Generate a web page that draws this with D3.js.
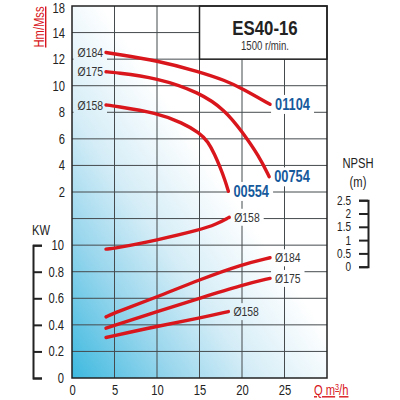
<!DOCTYPE html>
<html lang="en">
<head>
<meta charset="UTF-8">
<title>ES40-16</title>
<script src="https://d3js.org/d3.v7.min.js"></script>
<style>
  body { margin: 0; background: #fff; }
  svg text { font-family: "Liberation Sans", Arial, sans-serif; }
</style>
</head>
<body>
<svg id="chart" width="400" height="400"></svg>
<script>
    // axis ticks (labels copied as printed on the sheet)
    const qTicks = [0, 5, 10, 15, 20, 25];
    const hTicks = [2, 4, 6, 8, 10, 12, 14, 16];
    const hLabels = ["2", "4", "6", "8", "10", "12", "14", "18"];
    const kwTicks = [0, 0.2, 0.4, 0.6, 0.8, 1];
    const kwLabels = ["0", "0.2", "0.4", "0.6", "0.8", "10"];
    const npshTicks = [0, 0.5, 1, 1.5, 2, 2.5];
    const npshLabels = ["0", "0.5", "1", "1.5", "2", "2.5"];

    // head curves (Q m3/h, H m)
    const q184H = [4, 5, 10, 15, 18, 20, 23.3];
    const h184 = [12.5, 12.4, 11.9, 11.05, 10.4, 9.8, 8.6];
    const q175H = [4, 5, 10, 15, 18, 20, 22, 23.2];
    const h175 = [11.05, 11.0, 10.6, 9.5, 8.17, 6.55, 4.7, 3.15];
    const q158H = [4, 5, 10, 13, 15, 16, 16.8, 17.4, 18, 18.4];
    const h158 = [8.55, 8.47, 7.95, 7.2, 6.45, 5.8, 4.8, 3.9, 2.9, 2.05];
    const motors = ["01104", "00754", "00554"];

    // npsh curve
    const qNpsh = [4, 5, 10, 15, 17, 18.5];
    const npsh158 = [0.66, 0.69, 1.0, 1.38, 1.6, 1.86];

    // power curves (KW)
    const q184P = [4, 5, 10, 15, 20, 23.3];
    const kw184 = [0.46, 0.49, 0.61, 0.74, 0.855, 0.905];
    const q175P = [4, 10, 15, 20, 23.3];
    const kw175 = [0.375, 0.5, 0.6, 0.7, 0.75];
    const q158P = [4, 10, 15, 18.4];
    const kw158 = [0.305, 0.39, 0.45, 0.5];

    const svg = d3.select("#chart");
    const step = 372 / 14;   // one grid row
    const squeeze = 0.8;     // the sheet uses a condensed face

    const x = d3.scaleLinear().domain([0, 30]).range([72, 327]);
    const yH = d3.scaleLinear().domain([0, 16]).range([6 + 8 * step, 6]);
    const yKW = d3.scaleLinear().domain([0, 1]).range([378, 378 - 5 * step]);
    const yN = d3.scaleLinear().domain([0, 2.5]).range([266.7, 200.2]);

    const red = "#d8161c";
    const blue = "#165a9c";

    // background gradient
    const defs = svg.append("defs");
    const grad = defs.append("linearGradient").attr("id", "bg")
        .attr("x1", 0).attr("y1", 1).attr("x2", 1).attr("y2", 0);
    grad.append("stop").attr("offset", 0).attr("stop-color", "#3db9df");
    grad.append("stop").attr("offset", 0.2).attr("stop-color", "#98d6ed");
    grad.append("stop").attr("offset", 0.36).attr("stop-color", "#d5edf7");
    grad.append("stop").attr("offset", 0.56).attr("stop-color", "#ffffff");

    svg.append("rect")
        .attr("x", x(0)).attr("y", yH(16))
        .attr("width", x(30) - x(0)).attr("height", yKW(0) - yH(16))
        .attr("fill", "url(#bg)");

    // grid (masked around labels at the end)
    const mask = defs.append("mask").attr("id", "gaps").attr("maskUnits", "userSpaceOnUse")
        .attr("x", 0).attr("y", 0).attr("width", 400).attr("height", 400);
    mask.append("rect").attr("width", 400).attr("height", 400).attr("fill", "#fff");

    const grid = svg.append("g").attr("mask", "url(#gaps)")
        .attr("stroke", "#454a4d").attr("stroke-width", 1);
    const hRows = [0].concat(hTicks.slice(0, -1)).map(d => yH(d))
        .concat(kwTicks.slice(1).map(d => yKW(d)));
    grid.selectAll(".hl").data(hRows).join("line")
        .attr("x1", x(0)).attr("x2", x(30))
        .attr("y1", d => d).attr("y2", d => d);
    grid.selectAll(".vl").data(qTicks.slice(1)).join("line")
        .attr("x1", d => x(d)).attr("x2", d => x(d))
        .attr("y1", yH(16)).attr("y2", yKW(0));

    // title box
    svg.append("rect")
        .attr("x", x(15)).attr("y", yH(16))
        .attr("width", x(30) - x(15)).attr("height", yH(12) - yH(16))
        .attr("fill", "#fff").attr("stroke", "#222").attr("stroke-width", 1.5);
    svg.append("text").attr("x", 265).attr("y", 35)
        .attr("text-anchor", "middle").attr("font-size", 21).attr("font-weight", "bold")
        .attr("fill", "#222").text("ES40-16");
    svg.append("text").attr("x", 265).attr("y", 50)
        .attr("text-anchor", "middle").attr("font-size", 12)
        .attr("fill", "#333").text("1500 r/min.");

    // frame
    svg.append("rect")
        .attr("x", x(0)).attr("y", yH(16))
        .attr("width", x(30) - x(0)).attr("height", yKW(0) - yH(16))
        .attr("fill", "none").attr("stroke", "#222").attr("stroke-width", 1.5);

    // curves
    const curves = [
        { q: q184H, v: h184, y: yH, left: "Ø184", right: motors[0], rc: blue },
        { q: q175H, v: h175, y: yH, left: "Ø175", right: motors[1], rc: blue },
        { q: q158H, v: h158, y: yH, left: "Ø158", right: motors[2], rc: blue },
        { q: qNpsh, v: npsh158, y: yN, right: "Ø158", rc: "#333" },
        { q: q184P, v: kw184, y: yKW, right: "Ø184", rc: "#333" },
        { q: q175P, v: kw175, y: yKW, right: "Ø175", rc: "#333" },
        { q: q158P, v: kw158, y: yKW, right: "Ø158", rc: "#333" }
    ];

    const labels = svg.append("g");
    curves.forEach(function (c) {
        const pts = c.q.map((q, i) => [q, c.v[i]]);
        const line = d3.line()
            .x(d => x(d[0])).y(d => c.y(d[1]))
            .curve(d3.curveBasis);
        svg.append("path").datum(pts)
            .attr("d", line)
            .attr("fill", "none").attr("stroke", red)
            .attr("stroke-width", 3.4).attr("stroke-linecap", "round");

        const first = pts[0], last = pts[pts.length - 1];
        if (c.left) {
            labels.append("text")
                .attr("x", x(first[0]) - 3).attr("y", c.y(first[1]))
                .attr("dy", "0.35em").attr("text-anchor", "end")
                .attr("font-size", 13).attr("fill", "#333").text(c.left);
        }
        const isMotor = c.rc === blue;
        labels.append("text")
            .attr("x", x(last[0]) + 5).attr("y", c.y(last[1]))
            .attr("dy", "0.35em")
            .attr("font-size", isMotor ? 16 : 13)
            .attr("font-weight", isMotor ? "bold" : "normal")
            .attr("fill", c.rc).text(c.right);
    });

    // head axis
    const hAxis = svg.append("g")
        .attr("transform", "translate(" + x(0) + ",0)")
        .call(d3.axisLeft(yH).tickValues(hTicks)
            .tickFormat((d, i) => hLabels[i]).tickSize(0).tickPadding(7));
    hAxis.select(".domain").remove();
    hAxis.selectAll("text").attr("font-size", 14).attr("fill", "#222");
    hAxis.selectAll("text").filter(d => d === 16).attr("dy", "0.45em");

    // Q axis
    const qAxis = svg.append("g")
        .attr("transform", "translate(0," + yKW(0) + ")")
        .call(d3.axisBottom(x).tickValues(qTicks).tickSize(0).tickPadding(7));
    qAxis.select(".domain").remove();
    qAxis.selectAll("text").attr("font-size", 14).attr("fill", "#222");

    // KW bracket axis
    const kwAxis = svg.append("g")
        .attr("transform", "translate(33,0)")
        .call(d3.axisRight(yKW).tickValues(kwTicks)
            .tickFormat((d, i) => kwLabels[i]).tickSize(9).tickSizeOuter(9));
    kwAxis.selectAll("path, line").attr("stroke", "#222").attr("stroke-width", 2);
    kwAxis.selectAll("text").attr("x", 31).attr("text-anchor", "end")
        .attr("font-size", 14).attr("fill", "#222");

    // NPSH bracket axis
    const nAxis = svg.append("g")
        .attr("transform", "translate(368,0)")
        .call(d3.axisLeft(yN).tickValues(npshTicks)
            .tickFormat((d, i) => npshLabels[i]).tickSize(9).tickSizeOuter(9).tickPadding(8));
    nAxis.selectAll("path, line").attr("stroke", "#222").attr("stroke-width", 2);
    nAxis.selectAll("text").attr("font-size", 12.5).attr("fill", "#222");

    // axis titles
    svg.append("text").attr("transform", "translate(44,27) rotate(-90)")
        .attr("text-anchor", "middle").attr("font-size", 14).attr("fill", red)
        .style("text-decoration", "underline").text("Hm/Mss");
    svg.append("text").attr("x", 32).attr("y", 235)
        .attr("font-size", 14).attr("fill", "#222").text("KW");
    svg.append("text").attr("x", 358).attr("y", 168).attr("text-anchor", "middle")
        .attr("font-size", 14).attr("fill", "#222").text("NPSH");
    svg.append("text").attr("x", 358).attr("y", 187).attr("text-anchor", "middle")
        .attr("font-size", 14).attr("fill", "#222").text("(m)");

    const qt = svg.append("g").attr("transform", "translate(314,395) scale(" + squeeze + ",1)")
        .append("text").attr("font-size", 14).attr("fill", red)
        .style("text-decoration", "underline");
    qt.append("tspan").text("Q m");
    qt.append("tspan").attr("font-size", 9).attr("dy", -5).text("3");
    qt.append("tspan").attr("dy", 5).text("/h");

    // condense plain texts
    svg.selectAll("text").each(function () {
        if (this.querySelector("tspan")) return;
        const w = this.getComputedTextLength();
        d3.select(this).attr("textLength", w * squeeze).attr("lengthAdjust", "spacingAndGlyphs");
    });

    // cut the grid around every curve label
    labels.selectAll("text").each(function () {
        const b = this.getBBox();
        mask.append("rect")
            .attr("x", b.x - 4).attr("y", b.y - 1)
            .attr("width", b.width + 8).attr("height", b.height + 2)
            .attr("fill", "#000");
    });
</script>
</body>
</html>
